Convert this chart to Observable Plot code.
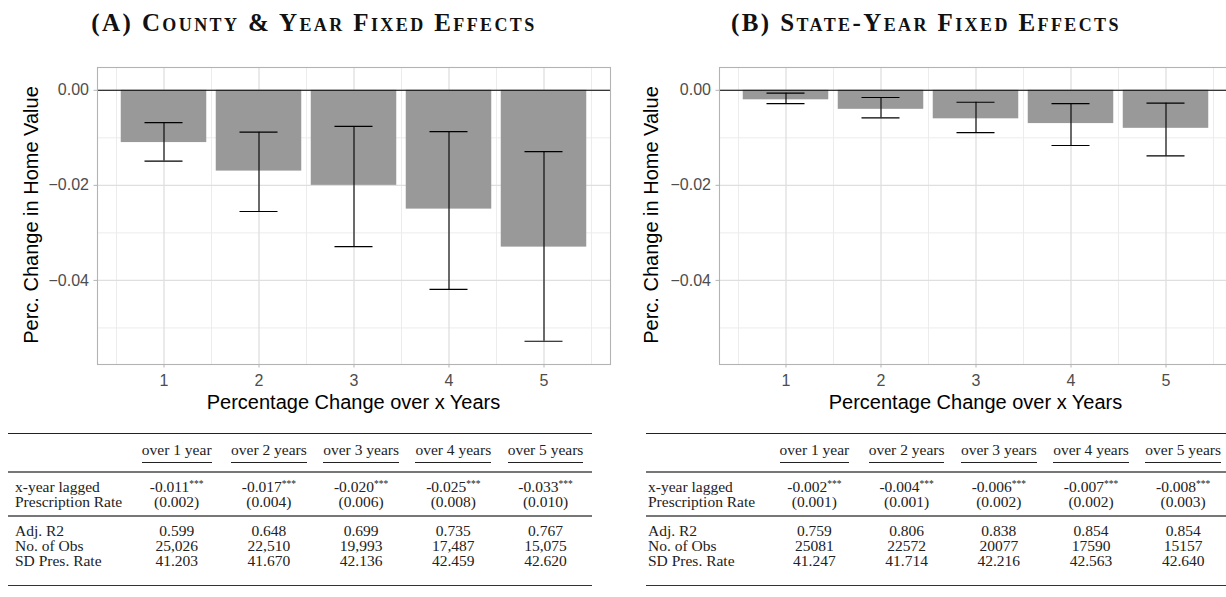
<!DOCTYPE html>
<html>
<head>
<meta charset="utf-8">
<script src="https://cdn.jsdelivr.net/npm/d3@7"></script>
<script src="https://cdn.jsdelivr.net/npm/@observablehq/plot@0.6"></script>
<style>
  html, body { margin: 0; padding: 0; background: #fff; overflow: hidden; }
  #fig { position: relative; width: 1226px; height: 597px; overflow: hidden; background: #fff; }
  .abs { position: absolute; white-space: nowrap; }
  .title { font-family: "Liberation Serif", "Times New Roman", serif; font-weight: bold;
           font-variant: small-caps; font-size: 25px; line-height: 25px; letter-spacing: 2.4px; color: #111; }
  .axt { font-family: "Liberation Sans", Arial, sans-serif; font-size: 20px; line-height: 20px; color: #000; }
  .tbl { font-family: "Liberation Serif", "Times New Roman", serif; font-size: 15.5px; line-height: 16px; color: #222; }
  .tbl sup { font-size: 9.5px; line-height: 0; vertical-align: 0.55em; }
  .rule { position: absolute; }
  svg { position: absolute; }
</style>
</head>
<body>
<div id="fig"></div>
<script>
// ---- data ----
const horizons = [1, 2, 3, 4, 5];
const colHeads = ["over 1 year", "over 2 years", "over 3 years", "over 4 years", "over 5 years"];

// (A) county & year fixed effects
const titleA = "(A) County & Year Fixed Effects";
const coefA = [-0.011, -0.017, -0.020, -0.025, -0.033];
const ciLowA = [-0.0149, -0.0255, -0.0329, -0.0419, -0.0528];
const ciHighA = [-0.0068, -0.0088, -0.0076, -0.0087, -0.0129];
const seA = ["(0.002)", "(0.004)", "(0.006)", "(0.008)", "(0.010)"];
const r2A = ["0.599", "0.648", "0.699", "0.735", "0.767"];
const nobsA = ["25,026", "22,510", "19,993", "17,487", "15,075"];
const sdA = ["41.203", "41.670", "42.136", "42.459", "42.620"];

// (B) state-year fixed effects
const titleB = "(B) State-Year Fixed Effects";
const coefB = [-0.002, -0.004, -0.006, -0.007, -0.008];
const ciLowB = [-0.0028, -0.0058, -0.0089, -0.0116, -0.0138];
const ciHighB = [-0.0006, -0.0015, -0.0025, -0.0028, -0.0027];
const seB = ["(0.001)", "(0.001)", "(0.002)", "(0.002)", "(0.003)"];
const r2B = ["0.759", "0.806", "0.838", "0.854", "0.854"];
const nobsB = ["25081", "22572", "20077", "17590", "15157"];
const sdB = ["41.247", "41.714", "42.216", "42.563", "42.640"];

const stars = "***";
const yTicks = [0, -0.02, -0.04];
const yMinor = [-0.01, -0.03, -0.05];
const xMinor = [0.5, 1.5, 2.5, 3.5, 4.5, 5.5];
const yTitle = "Perc. Change in Home Value";
const xTitle = "Percentage Change over x Years";

const fig = document.getElementById("fig");

function put(text, x, y, cls, opts = {}) {
  const el = document.createElement("div");
  el.className = "abs " + cls;
  el.textContent = text;
  if (opts.sup) {
    const s = document.createElement("sup");
    s.textContent = opts.sup;
    el.appendChild(s);
  }
  el.style.left = x + "px";
  el.style.top = y + "px";
  const ax = opts.align === "left" ? "0" : "-50%";
  el.style.transform = `translate(${ax}, -50%)` + (opts.rotate ? ` rotate(${opts.rotate}deg)` : "");
  fig.appendChild(el);
  return el;
}

function hline(x, y, w, h, color) {
  const el = document.createElement("div");
  el.className = "rule";
  el.style.left = x + "px";
  el.style.top = (y - h / 2) + "px";
  el.style.width = w + "px";
  el.style.height = h + "px";
  el.style.background = color;
  fig.appendChild(el);
}

// bar chart with confidence intervals for one specification
function panel(coef, lo, hi, left) {
  const rows = horizons.map((h, i) => ({h, coef: coef[i], lo: lo[i], hi: hi[i]}));
  const cap = 0.2, half = 0.45;
  const svg = Plot.plot({
    width: 622,
    height: 340,
    marginLeft: 97,
    marginRight: 12,
    marginTop: 17,
    marginBottom: 26,
    x: {domain: [0.3, 5.7]},
    y: {domain: [-0.0577, 0.0048]},
    style: {fontFamily: "'Liberation Sans', Arial, sans-serif", fontSize: "16px", background: "transparent", overflow: "visible"},
    marks: [
      Plot.ruleX(xMinor, {stroke: "#ececec", strokeWidth: 1}),
      Plot.ruleY(yMinor, {stroke: "#ececec", strokeWidth: 1}),
      Plot.ruleX(horizons, {stroke: "#dfdfdf", strokeWidth: 1.3}),
      Plot.ruleY(yTicks, {stroke: "#dfdfdf", strokeWidth: 1.3}),
      Plot.rectY(rows, {x1: d => d.h - half, x2: d => d.h + half, y1: 0, y2: "coef", fill: "#999999"}),
      Plot.ruleY([0], {stroke: "#000", strokeWidth: 1.1}),
      Plot.ruleX(rows, {x: "h", y1: "lo", y2: "hi", stroke: "#000", strokeWidth: 1.1}),
      Plot.ruleY(rows, {y: "lo", x1: d => d.h - cap, x2: d => d.h + cap, stroke: "#000", strokeWidth: 1.1}),
      Plot.ruleY(rows, {y: "hi", x1: d => d.h - cap, x2: d => d.h + cap, stroke: "#000", strokeWidth: 1.1}),
      Plot.frame({stroke: "#b3b3b3", strokeWidth: 1.1}),
      Plot.axisX({ticks: horizons, tickFormat: d => String(d), tickSize: 3.5, tickPadding: 6.5,
                  stroke: "#b3b3b3", fill: "#4d4d4d", label: null}),
      Plot.axisY({ticks: yTicks, tickFormat: d3.format(".2f"), tickSize: 3.5, tickPadding: 5,
                  stroke: "#b3b3b3", fill: "#4d4d4d", label: null})
    ]
  });
  svg.style.left = left + "px";
  svg.style.top = "50px";
  fig.appendChild(svg);
}

// regression table below each chart
function table(coef, se, r2, nobs, sd, left, labelX) {
  const width = 584;
  const colX = i => left + 168.4 + i * 92.2;
  hline(left, 433.3, width, 1.3, "#222");
  colHeads.forEach((t, i) => {
    const el = put(t, colX(i), 450, "tbl");
    const w = el.getBoundingClientRect().width;
    hline(colX(i) - w / 2, 462.7, w, 1, "#222");
  });
  hline(left, 471.7, width, 1.8, "#777");
  put("x-year lagged", labelX, 486.7, "tbl", {align: "left"});
  put("Prescription Rate", labelX, 501.5, "tbl", {align: "left"});
  coef.forEach((c, i) => put(c.toFixed(3), colX(i), 486.7, "tbl", {sup: stars}));
  se.forEach((s, i) => put(s, colX(i), 501.5, "tbl"));
  hline(left, 516, width, 1.8, "#777");
  put("Adj. R2", labelX, 531, "tbl", {align: "left"});
  put("No. of Obs", labelX, 546, "tbl", {align: "left"});
  put("SD Pres. Rate", labelX, 561, "tbl", {align: "left"});
  r2.forEach((s, i) => put(s, colX(i), 531, "tbl"));
  nobs.forEach((s, i) => put(s, colX(i), 546, "tbl"));
  sd.forEach((s, i) => put(s, colX(i), 561, "tbl"));
  hline(left, 585.7, width, 1.3, "#333");
}

panel(coefA, ciLowA, ciHighA, 0);
panel(coefB, ciLowB, ciHighB, 622);

put(titleA, 314, 22, "title");
put(titleB, 926, 22, "title");

put(yTitle, 31, 215, "axt", {rotate: -90});
put(yTitle, 651, 215, "axt", {rotate: -90});
put(xTitle, 353.5, 401.7, "axt");
put(xTitle, 975.5, 401.7, "axt");

table(coefA, seA, r2A, nobsA, sdA, 8.3, 15);
table(coefB, seB, r2B, nobsB, sdB, 646, 648);
</script>
</body>
</html>
